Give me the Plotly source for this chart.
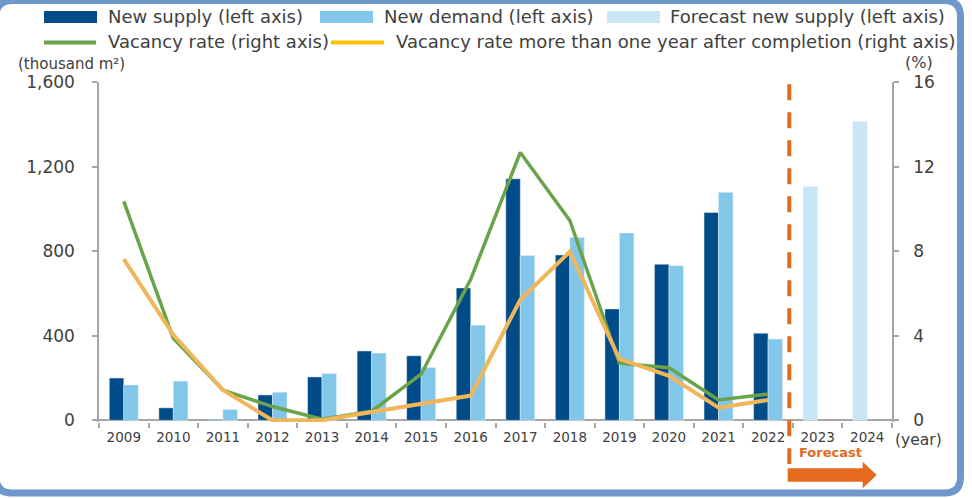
import plotly.graph_objects as go

# ---- data -------------------------------------------------------------
years = [str(y) for y in range(2009, 2025)]
actual_years = years[:14]          # 2009-2022
forecast_years = years[14:]        # 2023-2024

new_supply = [200, 59, 3, 120, 205, 328, 305, 626, 1142, 782, 527, 738, 983, 412]
new_demand = [167, 185, 51, 133, 221, 318, 250, 450, 780, 864, 886, 731, 1078, 384]
forecast_supply = [1106, 1413]

vacancy_rate = [10.35, 3.88, 1.43, 0.65, 0.05, 0.43, 2.18, 6.67, 12.67, 9.45, 2.70, 2.49, 0.96, 1.24]
vacancy_over_1yr = [7.62, 4.04, 1.43, 0.0, 0.0, 0.40, 0.80, 1.17, 5.70, 7.98, 2.90, 2.10, 0.60, 0.96]

left_ticks = [0, 400, 800, 1200, 1600]
right_ticks = [0, 4, 8, 12, 16]

# ---- styling ----------------------------------------------------------
FONT = "DejaVu Sans"
C_SUPPLY = "#004C88"
C_DEMAND = "#82C7EA"
C_FORECAST = "#C9E6F6"
C_VACANCY = "#6AA34A"
C_OVER1 = "#F0B65A"
C_ORANGE = "#E5691F"
C_AXIS = "#A6A6A6"
C_TEXT = "#404040"
C_FRAME = "#6F97CB"

W, H = 972, 498
ML, MR, MT, MB = 99, 80, 82, 76
PW, PH = W - ML - MR, H - MT - MB


def px_x(x):
    return (x - ML) / PW


def px_y(y):
    return (H - MB - y) / PH


fig = go.Figure()

fig.add_trace(go.Bar(x=actual_years, y=new_supply, name="New supply (left axis)",
                     marker_color=C_SUPPLY, offsetgroup="s", showlegend=False))
fig.add_trace(go.Bar(x=actual_years, y=new_demand, name="New demand (left axis)",
                     marker_color=C_DEMAND, offsetgroup="d", showlegend=False))
fig.add_trace(go.Bar(x=forecast_years, y=forecast_supply, name="Forecast new supply (left axis)",
                     marker_color=C_FORECAST, offsetgroup="s", showlegend=False))
fig.add_trace(go.Scatter(x=actual_years, y=vacancy_rate, mode="lines", yaxis="y2",
                         name="Vacancy rate (right axis)",
                         line=dict(color=C_VACANCY, width=3.5), showlegend=False))
fig.add_trace(go.Scatter(x=actual_years, y=vacancy_over_1yr, mode="lines", yaxis="y2",
                         name="Vacancy rate more than one year after completion (right axis)",
                         line=dict(color=C_OVER1, width=4), showlegend=False))

fig.update_layout(
    width=W, height=H,
    margin=dict(l=ML, r=MR, t=MT, b=MB, pad=0),
    paper_bgcolor="white", plot_bgcolor="white",
    barmode="group", bargap=0.415, bargroupgap=0,
    font=dict(family=FONT, color=C_TEXT),
    showlegend=False,
    xaxis=dict(
        type="category", categoryorder="array", categoryarray=years,
        range=[-0.5, 15.5], showgrid=False, showline=False, zeroline=False,
        ticks="outside", tickson="boundaries", ticklen=5, tickcolor=C_AXIS, tickwidth=1.5,
        tickfont=dict(size=13.5, color=C_TEXT), ticklabelstandoff=5,
    ),
    yaxis=dict(
        range=[-8, 1600], tickvals=left_ticks, tickformat=",",
        showgrid=False, showline=True, linecolor=C_AXIS, linewidth=1.5,
        zeroline=True, zerolinecolor=C_AXIS, zerolinewidth=1.5,
        ticks="outside", ticklen=5, tickcolor=C_AXIS, tickwidth=1.5,
        tickfont=dict(size=17, color=C_TEXT), ticklabelstandoff=14,
    ),
    yaxis2=dict(
        overlaying="y", side="right", range=[-0.08, 16], tickvals=right_ticks,
        showgrid=False, showline=True, linecolor=C_AXIS, linewidth=1.5, zeroline=False,
        ticks="outside", ticklen=5, tickcolor=C_AXIS, tickwidth=1.5,
        tickfont=dict(size=17, color=C_TEXT), ticklabelstandoff=11,
    ),
)

shapes = []
annotations = []

# axis unit labels
annotations.append(dict(x=px_x(16), y=px_y(64), xref="paper", yref="paper",
                        text="(thousand m²)", showarrow=False,
                        xanchor="left", yanchor="middle",
                        font=dict(size=15, color=C_TEXT, family=FONT)))
annotations.append(dict(x=px_x(919), y=px_y(62), xref="paper", yref="paper",
                        text="(%)", showarrow=False, xanchor="center", yanchor="middle",
                        font=dict(size=16, color=C_TEXT, family=FONT)))
annotations.append(dict(x=px_x(893), y=px_y(440), xref="paper", yref="paper",
                        text="(year)", showarrow=False, xanchor="left", yanchor="middle",
                        font=dict(size=15.5, color=C_TEXT, family=FONT)))

# legend, drawn as swatches + labels
legend_rects = [
    (44, 97, C_SUPPLY, 106, "New supply (left axis)"),
    (320, 373, C_DEMAND, 382, "New demand (left axis)"),
    (607, 660, C_FORECAST, 668, "Forecast new supply (left axis)"),
]
for x0, x1, col, tx, label in legend_rects:
    shapes.append(dict(type="rect", xref="paper", yref="paper",
                       x0=px_x(x0), x1=px_x(x1), y0=px_y(23), y1=px_y(11),
                       fillcolor=col, line=dict(width=0)))
    annotations.append(dict(x=px_x(tx), y=px_y(16), xref="paper", yref="paper",
                            text=label, showarrow=False, xanchor="left", yanchor="middle",
                            font=dict(size=18, color=C_TEXT, family=FONT)))

legend_lines = [
    (44, 96, C_VACANCY, 106, "Vacancy rate (right axis)"),
    (331, 384, "#FFC000", 394, "Vacancy rate more than one year after completion (right axis)"),
]
for x0, x1, col, tx, label in legend_lines:
    shapes.append(dict(type="line", xref="paper", yref="paper",
                       x0=px_x(x0), x1=px_x(x1), y0=px_y(42.5), y1=px_y(42.5),
                       line=dict(color=col, width=4)))
    annotations.append(dict(x=px_x(tx), y=px_y(42), xref="paper", yref="paper",
                            text=label, showarrow=False, xanchor="left", yanchor="middle",
                            font=dict(size=18, color=C_TEXT, family=FONT)))

# forecast divider
shapes.append(dict(type="path", xref="paper", yref="paper",
                   path=f"M {px_x(789.3)} {px_y(84.3)} L {px_x(789.3)} {px_y(464)}",
                   line=dict(color=C_ORANGE, width=4, dash="16px,12px")))

# forecast arrow
ax0, ax1, atip = 787.7, 862.7, 876.7
ay_top, ay_bot, ah_top, ah_bot, ay_mid = 468.3, 481.7, 461.7, 488.3, 475
arrow_path = (
    f"M {px_x(ax0)} {px_y(ay_top)} L {px_x(ax1)} {px_y(ay_top)} "
    f"L {px_x(ax1)} {px_y(ah_top)} L {px_x(atip)} {px_y(ay_mid)} "
    f"L {px_x(ax1)} {px_y(ah_bot)} L {px_x(ax1)} {px_y(ay_bot)} "
    f"L {px_x(ax0)} {px_y(ay_bot)} Z"
)
shapes.append(dict(type="path", xref="paper", yref="paper", path=arrow_path,
                   fillcolor=C_ORANGE, line=dict(width=0)))
annotations.append(dict(x=px_x(797), y=px_y(453), xref="paper", yref="paper",
                        text="<b>Forecast</b>", showarrow=False, xanchor="left", yanchor="middle",
                        font=dict(size=13, color=C_ORANGE, family=FONT)))

# rounded frame around the whole figure
fl, fr, ft, fb, rad = -4, 960.5, 0.5, 493, 16
frame = (
    f"M {px_x(fl + rad)} {px_y(ft)} L {px_x(fr - rad)} {px_y(ft)} "
    f"Q {px_x(fr)} {px_y(ft)} {px_x(fr)} {px_y(ft + rad)} "
    f"L {px_x(fr)} {px_y(fb - rad)} "
    f"Q {px_x(fr)} {px_y(fb)} {px_x(fr - rad)} {px_y(fb)} "
    f"L {px_x(fl + rad)} {px_y(fb)} "
    f"Q {px_x(fl)} {px_y(fb)} {px_x(fl)} {px_y(fb - rad)} "
    f"L {px_x(fl)} {px_y(ft + rad)} "
    f"Q {px_x(fl)} {px_y(ft)} {px_x(fl + rad)} {px_y(ft)} Z"
)
shapes.append(dict(type="path", xref="paper", yref="paper", path=frame,
                   line=dict(color=C_FRAME, width=7), fillcolor="rgba(0,0,0,0)"))

fig.update_layout(shapes=shapes, annotations=annotations)

fig.write_html("out.html")
